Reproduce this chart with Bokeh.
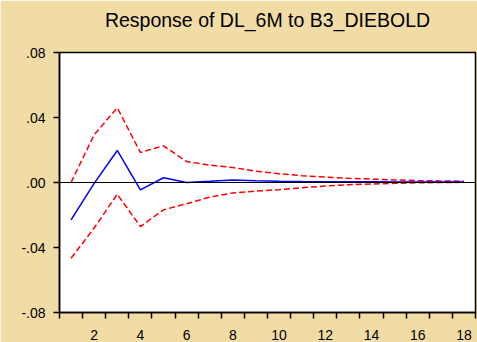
from bokeh.plotting import figure
from bokeh.models import Range1d, FixedTicker, Span, LinearAxis
from bokeh.embed import file_html
from bokeh.resources import INLINE

steps = list(range(1, 19))
response = [-0.0230, -0.0005, 0.0197, -0.0045, 0.0029, 0.0000, 0.0007, 0.0016, 0.0011,
            0.0008, 0.0006, 0.0005, 0.0004, 0.0004, 0.0003, 0.0003, 0.0003, 0.0003]
upper = [0.0000, 0.0294, 0.0460, 0.0185, 0.0226, 0.0129, 0.0107, 0.0092, 0.0070,
         0.0054, 0.0042, 0.0033, 0.0026, 0.0021, 0.0016, 0.0012, 0.0010, 0.0008]
lower = [-0.0466, -0.0280, -0.0072, -0.0271, -0.0168, -0.0131, -0.0090, -0.0064, -0.0053,
         -0.0044, -0.0032, -0.0022, -0.0014, -0.0009, -0.0005, -0.0002, 0.0000, 0.0001]
x_tick_labels = [2, 4, 6, 8, 10, 12, 14, 16, 18]
y_ticks = [-0.08, -0.04, 0.0, 0.04, 0.08]
y_tick_labels = ["-.08", "-.04", ".00", ".04", ".08"]
title = "Response of DL_6M to B3_DIEBOLD"

FONT = "Liberation Sans"
BG = "#F1DCA5"

p = figure(width=477, height=342, output_backend="svg", toolbar_location=None,
           x_range=Range1d(0.5, 18.5), y_range=Range1d(-0.08, 0.08),
           min_border_left=59, min_border_right=2, min_border_top=52, min_border_bottom=30)
p.border_fill_color = BG
p.background_fill_color = "white"
p.outline_line_color = "black"
p.outline_line_width = 1.5
p.grid.visible = False

# x axis (below)
xa = p.below[0]
xa.ticker = FixedTicker(ticks=x_tick_labels, minor_ticks=[s - 0.5 for s in steps] + [18.5])
xa.major_tick_out = 0
xa.major_tick_in = 0
xa.minor_tick_out = 6
xa.minor_tick_in = 0
xa.minor_tick_line_color = "black"
xa.minor_tick_line_width = 1.5
xa.axis_line_color = "black"
xa.axis_line_width = 1.5
xa.major_label_standoff = 11
xa.major_label_text_font = FONT
xa.major_label_text_font_size = "14px"
xa.major_label_text_color = "black"

# y axis (left)
ya = p.left[0]
ya.ticker = FixedTicker(ticks=y_ticks)
ya.major_label_overrides = {t: l for t, l in zip(y_ticks, y_tick_labels)}
ya.major_tick_out = 6
ya.major_tick_in = 0
ya.minor_tick_out = 0
ya.minor_tick_in = 0
ya.major_tick_line_color = "black"
ya.major_tick_line_width = 1.5
ya.axis_line_color = "black"
ya.axis_line_width = 1.5
ya.major_label_standoff = 8
ya.major_label_text_font = FONT
ya.major_label_text_font_size = "14px"
ya.major_label_text_color = "black"

# title drawn as the label of a bare axis above the frame
ta = LinearAxis(ticker=FixedTicker(ticks=[]), axis_label=title)
ta.axis_line_color = None
ta.major_tick_line_color = None
ta.minor_tick_line_color = None
ta.major_tick_out = 0
ta.major_tick_in = 0
ta.minor_tick_out = 0
ta.minor_tick_in = 0
ta.major_label_standoff = 0
ta.major_label_text_font_size = "0px"
ta.axis_label_standoff = 22
ta.axis_label_text_font = FONT
ta.axis_label_text_font_size = "19.5px"
ta.axis_label_text_font_style = "normal"
ta.axis_label_text_color = "black"
p.add_layout(ta, "above")

p.add_layout(Span(location=0, dimension="width", line_color="black", line_width=1))

p.line(steps, upper, line_color="#FF0000", line_width=1.5, line_dash="6 3")
p.line(steps, lower, line_color="#FF0000", line_width=1.5, line_dash="6 3")
p.line(steps, response, line_color="#0000FF", line_width=1.5)

open("out.html", "w").write(file_html(p, INLINE))
